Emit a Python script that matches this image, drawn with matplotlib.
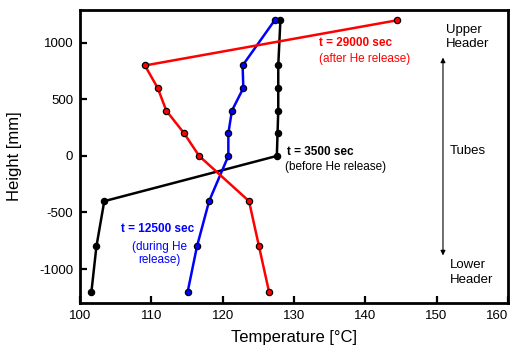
import matplotlib.pyplot as plt
from matplotlib.ticker import FuncFormatter

plt.rcParams['font.family'] = ['Liberation Sans', 'DejaVu Sans']

# heights of the thermocouples [mm]
height = [1200, 800, 600, 400, 200, 0, -400, -800, -1200]

# temperatures [°C] at three times
temp_3500 = [128.1, 127.8, 127.8, 127.8, 127.7, 127.6, 103.4, 102.3, 101.6]
temp_12500 = [127.3, 122.8, 122.9, 121.3, 120.8, 120.8, 118.1, 116.4, 115.1]
temp_29000 = [144.5, 109.1, 110.9, 112.1, 114.6, 116.7, 123.7, 125.1, 126.5]

fig = plt.figure(figsize=(5.13, 3.47), dpi=100)
ax = fig.add_axes([0.156, 0.127, 0.834, 0.844])

series = [(temp_3500, 'black'), (temp_12500, '#0000ff'), (temp_29000, '#ff0000')]
for temps, col in series:
    ax.plot(temps, height, color=col, lw=1.8, marker='o', ms=4.5,
            mfc=col, mec='black', mew=0.9)

ax.set_xlim(100, 160)
ax.set_ylim(-1300, 1290)
ax.set_xticks(range(100, 161, 10))
ax.set_yticks([-1000, -500, 0, 500, 1000])
ax.yaxis.set_major_formatter(FuncFormatter(lambda v, p: '%d' % v))
ax.tick_params(direction='in', length=5, width=1.6, labelsize=9.5, pad=5)
for sp in ax.spines.values():
    sp.set_linewidth(2)
# last x label would run off the figure, keep it inside
fig.canvas.draw()
ax.get_xticklabels()[-1].set_horizontalalignment('right')
ax.get_xticklabels()[-1].set_x(160.3)

ax.set_xlabel('Temperature [°C]', fontsize=12, labelpad=5.5)
ax.set_ylabel('Height [mm]', fontsize=12, va='center')
ax.yaxis.set_label_coords(-0.154, 0.5)

# labels for the curves
ax.text(138.7, 997, 't = 29000 sec', color='#ff0000', fontsize=8.5,
        fontweight='bold', ha='center', va='center')
ax.text(139.9, 855, '(after He release)', color='#ff0000', fontsize=8.5,
        ha='center', va='center')
ax.text(133.7, 34, 't = 3500 sec', color='black', fontsize=8.5,
        fontweight='bold', ha='center', va='center')
ax.text(135.9, -99, '(before He release)', color='black', fontsize=8.5,
        ha='center', va='center')
ax.text(110.9, -647, 't = 12500 sec', color='#0000ff', fontsize=8.5,
        fontweight='bold', ha='center', va='center')
ax.text(111.2, -860, '(during He\nrelease)', color='#0000ff', fontsize=8.5,
        ha='center', va='center', linespacing=1.1)

# right side: sections of the component
ax.text(151.3, 1050, 'Upper\nHeader', fontsize=9.5, ha='left', va='center',
        linespacing=1.25)
ax.text(151.9, 42, 'Tubes', fontsize=9.5, ha='left', va='center')
ax.text(151.9, -1031, 'Lower\nHeader', fontsize=9.5, ha='left', va='center',
        linespacing=1.25)
ax.annotate('', xy=(150.9, 870), xytext=(150.9, -880),
            arrowprops=dict(arrowstyle='<|-|>', color='black', lw=0.8,
                            mutation_scale=7, shrinkA=0, shrinkB=0))

fig.savefig('out.png', dpi=100)
